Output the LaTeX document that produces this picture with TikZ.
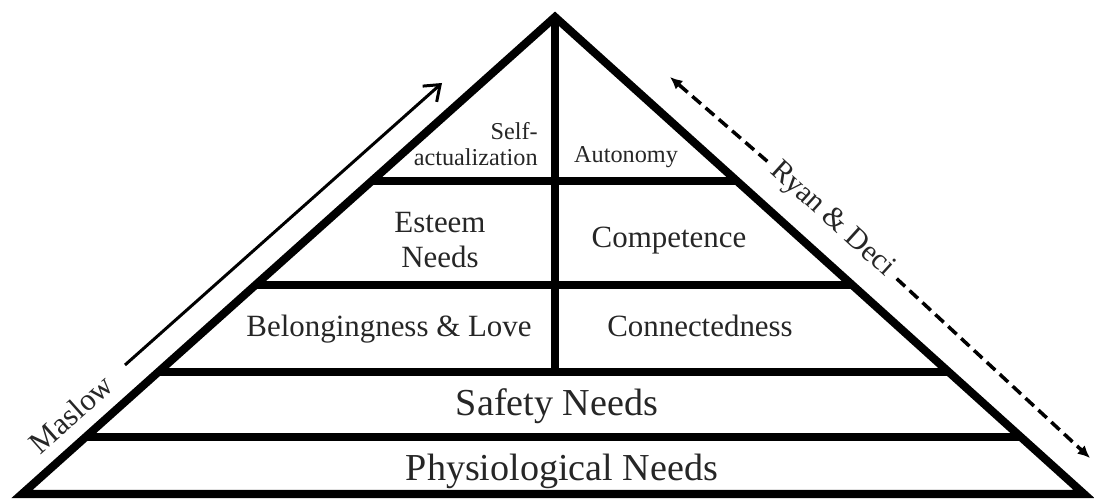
\documentclass[tikz,border=0pt]{standalone}
\usepackage{fontspec}
\setmainfont{Liberation Serif}
\usetikzlibrary{arrows.meta,calc}
\begin{document}
\begin{tikzpicture}[x=0.02cm,y=-0.02cm,
  wall/.style={line width=4.6pt},
  lbl/.style={inner sep=0pt,text=black!85},
  big/.style={lbl,font=\fontsize{21.7}{26}\selectfont},
  mid/.style={lbl,font=\fontsize{17.6}{20}\selectfont},
  small/.style={lbl,font=\fontsize{13.8}{14.8}\selectfont},
  dasharrow/.style={line width=2pt,dash pattern=on 6.5pt off 3.5pt,-{Latex[length=7pt,width=6.5pt]}}]
\useasboundingbox (0,0) rectangle (1094,502);
% pyramid
\coordinate (apex) at (555,17);
\coordinate (bl) at (22,494);
\coordinate (br) at (1084,494);
\draw[wall,line join=miter] (apex) -- (bl) -- (br) -- cycle;
\foreach \f in {0.344,0.562,0.744,0.880}
  \draw[wall] ($(apex)!\f!(bl)$) -- ($(apex)!\f!(br)$);
\draw[wall] (apex) -- (555,372);
% levels
\node[big,anchor=base] (physio) at (562,480) {Physiological Needs};
\node[big,anchor=base] (safety) at (557,416) {Safety Needs};
\node[mid,anchor=base] (belong) at (389,337) {Belongingness \& Love};
\node[mid,anchor=base] (connect) at (700,337) {Connectedness};
\node[mid,align=center] (esteem) at (440,240) {Esteem\\Needs};
\node[mid,anchor=base] (compet) at (669,248) {Competence};
\node[small,align=right,anchor=east] (selfact) at (538,144) {Self-\\actualization};
\node[small,anchor=base] (auto) at (626,163) {Autonomy};
% theories
\coordinate (mtail) at (125,365);
\coordinate (mhead) at (442,83);
\draw[line width=1.7pt,-{Straight Barb[length=8pt,width=12pt]}] (mtail) -- (mhead);
\node[mid,rotate=41.7] (maslow) at (71,414) {Maslow};
\node[mid,font=\fontsize{17}{20}\selectfont,rotate=-42.2,inner sep=5pt] (ryan) at (832,220) {Ryan \& Deci};
\coordinate (rdtop) at (670,77);
\coordinate (rdbot) at (1090,458);
\draw[dasharrow] (ryan.west) -- (rdtop);
\draw[dasharrow] (ryan.east) -- (rdbot);
\end{tikzpicture}
\end{document}
